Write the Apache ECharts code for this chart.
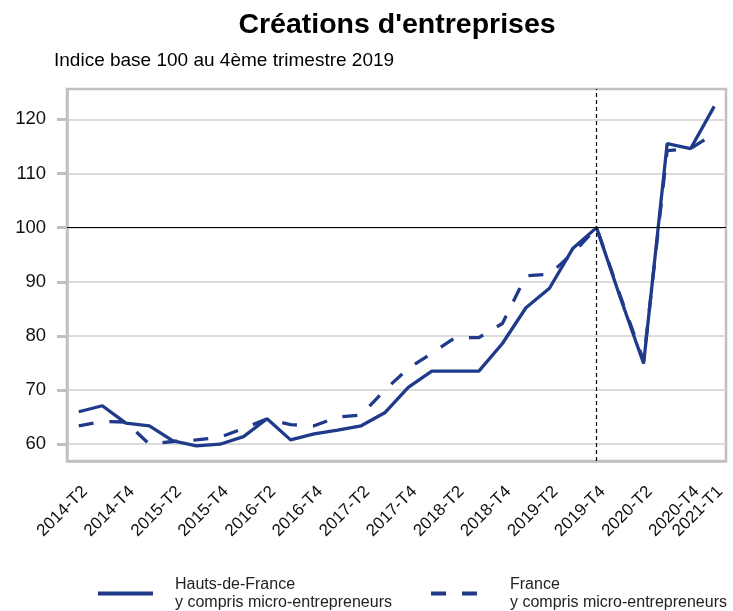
<!DOCTYPE html>
<html>
<head>
<meta charset="utf-8">
<script src="https://cdn.jsdelivr.net/npm/echarts@6/dist/echarts.min.js"></script>
<style>
html,body{margin:0;padding:0;background:#fff;}
#chart{width:733px;height:611px;}
</style>
</head>
<body>
<div id="chart"></div>
<script>
const categories = [
  '2014-T2','2014-T3','2014-T4',
  '2015-T1','2015-T2','2015-T3','2015-T4',
  '2016-T1','2016-T2','2016-T3','2016-T4',
  '2017-T1','2017-T2','2017-T3','2017-T4',
  '2018-T1','2018-T2','2018-T3','2018-T4',
  '2019-T1','2019-T2','2019-T3','2019-T4',
  '2020-T1','2020-T2','2020-T3','2020-T4',
  '2021-T1'
];
const hautsDeFrance = [
  66.0, 67.1, 63.9,
  63.4, 60.6, 59.7, 60.0,
  61.4, 64.7, 60.8, 61.9,
  62.6, 63.4, 65.8, 70.5,
  73.5, 73.5, 73.5, 78.6,
  85.2, 88.8, 96.2, 100.0,
  87.2, 74.9, 115.5, 114.6,
  122.4
];
const france = [
  63.4, 64.2, 64.1,
  60.0, 60.5, 60.8, 61.3,
  62.9, 64.7, 63.6, 63.4,
  65.0, 65.4, 70.0, 74.0,
  76.8, 79.7, 79.7, 82.3,
  91.1, 91.4, 95.3, 100.0,
  87.5, 75.4, 114.2, 114.6,
  117.4
];
const yTicks = [60, 70, 80, 90, 100, 110, 120];
const baseValue = 100;
const baseQuarter = '2019-T4';
const seriesNames = ['Hauts-de-France\ny compris micro-entrepreneurs', 'France\ny compris micro-entrepreneurs'];

const FONT = '"Liberation Sans", Arial, sans-serif';
const BLUE = '#1f3a8a';
const GRAY = '#c0c0c0';
const lastIdx = categories.length - 1;
const showIdx = (i) => i % 2 === 0 || i === lastIdx;
const labelStyle = {rotate: 45, margin: 22, fontSize: 17, color: '#111', fontFamily: FONT, verticalAlign: 'top', hideOverlap: false};

const chart = echarts.init(document.getElementById('chart'), null, {renderer: 'canvas'});
chart.setOption({
  animation: false,
  backgroundColor: '#fff',
  textStyle: {fontFamily: FONT},
  title: [
    {text: "Créations d'entreprises", left: 392, textAlign: 'center', top: 6,
     textStyle: {fontFamily: FONT, fontSize: 28.5, fontWeight: 'bold', color: '#000'}},
    {text: 'Indice base 100 au 4ème trimestre 2019', left: 49, top: 46,
     textStyle: {fontFamily: FONT, fontSize: 19, fontWeight: 'normal', color: '#000'}}
  ],
  legend: [
    {data: [seriesNames[0]], left: 91, top: 570, itemWidth: 55, itemHeight: 14,
     itemStyle: {opacity: 0}, lineStyle: {width: 4},
     textStyle: {fontFamily: FONT, fontSize: 16, color: '#222', lineHeight: 18.5, padding: [0,0,0,17]}},
    {data: [seriesNames[1]], left: 424, top: 570, itemWidth: 47, itemHeight: 14,
     itemStyle: {opacity: 0}, lineStyle: {width: 4},
     textStyle: {fontFamily: FONT, fontSize: 16, color: '#222', lineHeight: 18.5, padding: [0,0,0,27]}}
  ],
  grid: {left: 67, right: 7, top: 89, bottom: 150, show: true, borderColor: GRAY, borderWidth: 2.5, containLabel: false},
  xAxis: [
    {
      type: 'category', data: categories, boundaryGap: true, position: 'bottom',
      axisLine: {lineStyle: {color: GRAY, width: 2.5}},
      axisTick: {alignWithLabel: true, interval: (i) => showIdx(i), length: 11, lineStyle: {color: GRAY, width: 3}},
      axisLabel: Object.assign({interval: (i) => i % 2 === 0}, labelStyle),
      splitLine: {show: false}
    },
    {
      type: 'category', data: categories, boundaryGap: true, position: 'bottom', offset: 0,
      axisLine: {show: false}, axisTick: {show: false}, splitLine: {show: false},
      axisLabel: Object.assign({interval: (i) => i === lastIdx}, labelStyle)
    }
  ],
  yAxis: {
    type: 'value', min: 56.9, max: 125.6,
    axisLine: {show: true, lineStyle: {color: GRAY, width: 2.5}},
    axisTick: {show: true, customValues: yTicks, length: 10, lineStyle: {color: GRAY, width: 3}},
    axisLabel: {customValues: yTicks, margin: 21, fontSize: 18.5, color: '#111', fontFamily: FONT},
    splitLine: {show: true, lineStyle: {color: '#d0d0d0', width: 1.5}}
  },
  series: [
    {
      name: seriesNames[0], type: 'line', data: hautsDeFrance, symbol: 'none', z: 3,
      lineStyle: {color: BLUE, width: 3.3}, itemStyle: {color: BLUE},
      markLine: {
        silent: true, symbol: 'none', label: {show: false},
        data: [
          {yAxis: baseValue, lineStyle: {color: '#000', width: 1.2, type: 'solid'}},
          {xAxis: baseQuarter, lineStyle: {color: '#000', width: 1.2, type: [4, 3]}}
        ]
      }
    },
    {
      name: seriesNames[1], type: 'line', data: france, symbol: 'none', z: 3,
      lineStyle: {color: BLUE, width: 3.3, type: [15, 16]}, itemStyle: {color: BLUE}
    }
  ]
});
</script>
</body>
</html>
